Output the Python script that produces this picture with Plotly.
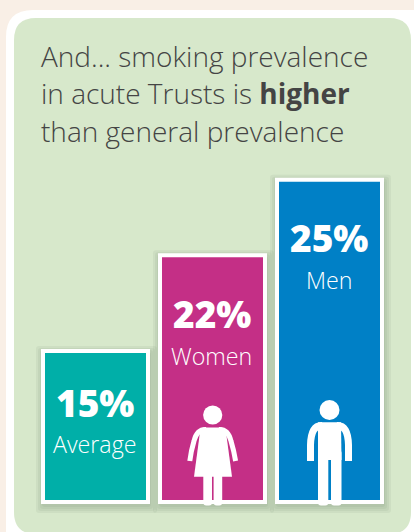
import plotly.graph_objects as go

categories = ["Average", "Women", "Men"]
labels = ["15%", "22%", "25%"]
bar_heights = [15, 24.5, 32]
bar_colors = ["#00AFA8", "#C42F86", "#0080C6"]
title_lines = ["And... smoking prevalence", "in acute Trusts is <b>higher</b>", "than general prevalence"]
FONT = "Open Sans"
W, H = 414, 532

def px(x): return x / W
def py(y): return 1 - y / H

def rr(x0, y0, x1, y1, r):
    return (f"M{px(x0+r)},{py(y0)} L{px(x1-r)},{py(y0)} Q{px(x1)},{py(y0)} {px(x1)},{py(y0+r)} "
            f"L{px(x1)},{py(y1-r)} Q{px(x1)},{py(y1)} {px(x1-r)},{py(y1)} L{px(x0+r)},{py(y1)} "
            f"Q{px(x0)},{py(y1)} {px(x0)},{py(y1-r)} L{px(x0)},{py(y0+r)} Q{px(x0)},{py(y0)} {px(x0+r)},{py(y0)} Z")

def poly(points, close=True):
    s = ""
    for i, p in enumerate(points):
        if i == 0:
            s += f"M{px(p[0])},{py(p[1])} "
        elif len(p) == 4:
            s += f"Q{px(p[0])},{py(p[1])} {px(p[2])},{py(p[3])} "
        else:
            s += f"L{px(p[0])},{py(p[1])} "
    return s + ("Z" if close else "")

def circle(cx, cy, r):
    return dict(type="circle", xref="paper", yref="paper", x0=px(cx-r), x1=px(cx+r), y0=py(cy+r), y1=py(cy-r),
                fillcolor="white", line_width=0, layer="above")

def path(d, fill="white", lw=0, color="white", layer="above", op=1):
    return dict(type="path", xref="paper", yref="paper", path=d, fillcolor=fill,
                line=dict(width=lw, color=color), layer=layer, opacity=op)

shapes = [
    path(rr(6, 10, 440, 560, 27), layer="below"),
    path(rr(14, 18, 411, 534, 22), fill="#D7E8CB", layer="below"),
]
SCALE = 10.07
BASE = 502
centers = [95.5, 212.5, 329.5]
for c, v in zip(centers, bar_heights):
    top = BASE - v * SCALE
    for g in (6, 4, 2, 0):
        shapes.append(path(rr(c-54.5-g+1, top-2-g+3, c+54.5+g+1, BASE+2+g+3, 3), fill="#5E6E55", layer="below", op=0.08))

NOFILL = "rgba(0,0,0,0)"
# woman
shapes += [
    circle(212.7, 415, 9.6),
    path(poly([(203,427.5),(222,427.5),(226,432),(232,476.7),(194,476.7),(200,432)])),
    path(poly([(206,429.5),(197,429,194,441),(191,451,189.8,461)], close=False), fill=NOFILL, lw=5),
    path(poly([(219,429.5),(228,429,231,441),(234,451,235.6,461)], close=False), fill=NOFILL, lw=5),
    path(rr(203.3, 470, 212, 505.5, 3)),
    path(rr(213.6, 470, 222.2, 505.5, 3)),
]
# man
shapes += [
    circle(329.5, 410, 10),
    path(poly([(318,422.3),(341,422.3),(341.5,460),(318,460)])),
    path(poly([(322,425.5),(311,425,310.5,445),(310.5,452,310.5,461)], close=False), fill=NOFILL, lw=7),
    path(poly([(337,425.5),(348,425,348.5,445),(348.5,452,348.5,461)], close=False), fill=NOFILL, lw=7),
    path(rr(318, 450, 328.3, 505.5, 3)),
    path(rr(331, 450, 341.5, 505.5, 3)),
]

annotations = []
for i, line in enumerate(title_lines):
    annotations.append(dict(x=px(38.5), y=py(55.5 + i*37.5), xref="paper", yref="paper", text=line, showarrow=False,
                            xanchor="left", yanchor="middle", font=dict(family=FONT, size=28, color="#444444", weight=300)))
val_y = [402.5, 313, 237]
lab_y = [444, 356, 280]
for c, l, cat, vy, ly in zip(centers, labels, categories, val_y, lab_y):
    annotations.append(dict(x=px(c - 1), y=py(vy), xref="paper", yref="paper", text=l, showarrow=False,
                            xanchor="center", yanchor="middle", font=dict(family=FONT, size=37, color="white", weight=800)))
    annotations.append(dict(x=px(c - 1), y=py(ly), xref="paper", yref="paper", text=cat, showarrow=False,
                            xanchor="center", yanchor="middle", font=dict(family=FONT, size=23.2, color="white", weight=300)))

fig = go.Figure(go.Bar(x=categories, y=bar_heights, width=105/117,
                       marker=dict(color=bar_colors, line=dict(color="white", width=4)),
                       hoverinfo="skip"))
fig.update_layout(
    width=W, height=H, margin=dict(l=0, r=0, t=0, b=0), paper_bgcolor="#F9EFE6", plot_bgcolor="rgba(0,0,0,0)",
    xaxis=dict(visible=False, type="category", range=[-95.5/117, (W-95.5)/117], fixedrange=True),
    yaxis=dict(visible=False, range=[-(H-BASE)/SCALE, BASE/SCALE], fixedrange=True),
    shapes=shapes, annotations=annotations, showlegend=False,
)
fig.write_html("out.html", config={"displayModeBar": False},
               post_script="document.body.style.margin='0';document.documentElement.style.overflow='hidden';")
